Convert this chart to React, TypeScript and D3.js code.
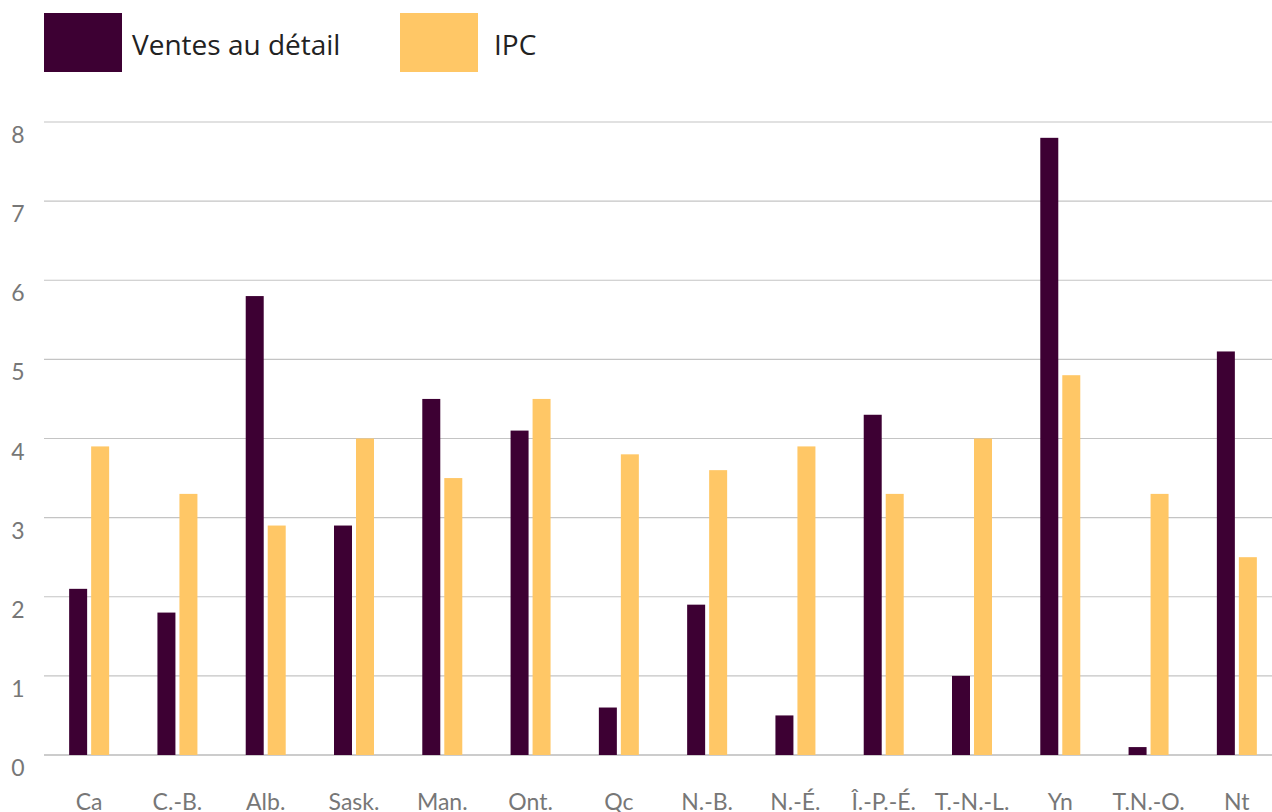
import { useEffect, useRef } from "react";
import * as d3 from "d3";

// data
const provinces = ["Ca", "C.-B.", "Alb.", "Sask.", "Man.", "Ont.", "Qc", "N.-B.", "N.-É.", "Î.-P.-É.", "T.-N.-L.", "Yn", "T.N.-O.", "Nt"];
const series = ["Ventes au détail", "IPC"];
const retail = [2.1, 1.8, 5.8, 2.9, 4.5, 4.1, 0.6, 1.9, 0.5, 4.3, 1.0, 7.8, 0.1, 5.1];
const cpi = [3.9, 3.3, 2.9, 4.0, 3.5, 4.5, 3.8, 3.6, 3.9, 3.3, 4.0, 4.8, 3.3, 2.5];
const yTicks = [0, 1, 2, 3, 4, 5, 6, 7, 8];
const colors = ["#3d0033", "#ffc766"];

const W = 1272, H = 812;

function App() {
    const ref = useRef<SVGSVGElement>(null);

    useEffect(() => {
        const svg = d3.select(ref.current);
        svg.selectAll("*").remove();

        const x = d3.scaleBand()
            .domain(provinces)
            .range([45, 1281])
            .paddingInner(0.547)
            .paddingOuter(0.2735);
        const xs = d3.scaleBand()
            .domain(series)
            .range([0, x.bandwidth()])
            .paddingInner(0.182);
        const y = d3.scaleLinear().domain([0, 8]).range([755, 122]);

        // grid lines
        svg.append("g")
            .selectAll("line")
            .data(yTicks)
            .join("line")
            .attr("x1", 44)
            .attr("x2", W)
            .attr("y1", d => y(d))
            .attr("y2", d => y(d))
            .attr("stroke", d => d === 0 ? "#9a9a9a" : "#c4c4c4")
            .attr("stroke-width", 1.2);

        // y labels, sitting a little below each line
        svg.append("g")
            .selectAll("text")
            .data(yTicks)
            .join("text")
            .attr("x", 18)
            .attr("y", d => y(d) + 21)
            .attr("text-anchor", "middle")
            .attr("font-family", "Lato, sans-serif")
            .attr("font-size", 23)
            .attr("fill", "#777")
            .text(d => d);

        // bars
        const rows = provinces.map((p, i) => ({ p, vals: [retail[i], cpi[i]] }));
        const groups = svg.append("g")
            .selectAll("g")
            .data(rows)
            .join("g")
            .attr("transform", d => `translate(${x(d.p)},0)`);
        groups.selectAll("rect")
            .data(d => d.vals.map((v, j) => ({ s: series[j], v, j })))
            .join("rect")
            .attr("x", d => xs(d.s)!)
            .attr("width", xs.bandwidth())
            .attr("y", d => y(d.v))
            .attr("height", d => y(0) - y(d.v))
            .attr("fill", d => colors[d.j]);

        // category labels (cut by the bottom edge, as in the original)
        svg.append("g")
            .selectAll("text")
            .data(provinces)
            .join("text")
            .attr("x", d => x(d)! + x.bandwidth() / 2)
            .attr("y", 810)
            .attr("text-anchor", "middle")
            .attr("font-family", "Lato, sans-serif")
            .attr("font-size", 23)
            .attr("fill", "#777")
            .text(d => d);

        // legend
        const legendX = [44, 400];
        const legend = svg.append("g")
            .selectAll("g")
            .data(series)
            .join("g")
            .attr("transform", (d, i) => `translate(${legendX[i]},13)`);
        legend.append("rect")
            .attr("width", 78)
            .attr("height", 59)
            .attr("fill", (d, i) => colors[i]);
        legend.append("text")
            .attr("x", (d, i) => i === 0 ? 88 : 94)
            .attr("y", 42)
            .attr("font-family", "'Open Sans', sans-serif")
            .attr("font-size", 28)
            .attr("fill", "#222")
            .text(d => d);
    });

    return (
        <svg ref={ref} width={W} height={H}
            style={{ position: "absolute", left: 0, top: 0, background: "#fff" }} />
    );
}

export default App;
